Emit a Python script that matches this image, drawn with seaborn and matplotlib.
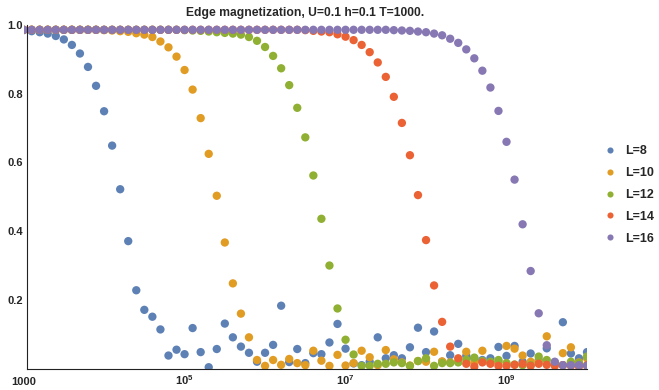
import numpy as np
import pandas as pd
import matplotlib
matplotlib.use("Agg")
import matplotlib.pyplot as plt
from matplotlib.lines import Line2D
from matplotlib.ticker import FixedLocator, NullFormatter
import seaborn as sns

# Time grid: ten samples per decade from 1e3 to 1e10
times = np.logspace(3, 10, 71)

sizes = ["L=8", "L=10", "L=12", "L=14", "L=16"]
colors = ["#5E81B5", "#E19C24", "#8FB032", "#EB6235", "#8778B3"]

m_L8 = [0.985, 0.982, 0.979, 0.975, 0.968, 0.958, 0.942, 0.917, 0.878, 0.823,
        0.749, 0.649, 0.522, 0.371, 0.228, 0.171, 0.151, 0.114, 0.038, 0.055,
        0.042, 0.118, 0.048, 0.004, 0.057, 0.131, 0.091, 0.064, 0.046, 0.020,
        0.046, 0.069, 0.183, 0.019, 0.057, 0.016, 0.045, 0.042, 0.076, 0.130,
        0.058, 0.015, 0.010, 0.020, 0.091, 0.030, 0.039, 0.030, 0.062, 0.119,
        0.048, 0.108, 0.020, 0.039, 0.072, 0.037, 0.030, 0.025, 0.030, 0.063,
        0.037, 0.066, 0.020, 0.044, 0.025, 0.059, 0.015, 0.135, 0.044, 0.030,
        0.048]

m_L10 = [0.986, 0.986, 0.986, 0.986, 0.986, 0.986, 0.986, 0.986, 0.986, 0.986,
         0.985, 0.984, 0.982, 0.980, 0.976, 0.972, 0.965, 0.952, 0.935, 0.908,
         0.869, 0.812, 0.729, 0.625, 0.503, 0.367, 0.248, 0.160, 0.091, 0.025,
         0.008, 0.025, 0.011, 0.028, 0.016, 0.010, 0.052, 0.023, 0.008, 0.040,
         0.009, 0.016, 0.052, 0.033, 0.010, 0.054, 0.027, 0.018, 0.009, 0.022,
         0.020, 0.049, 0.021, 0.018, 0.020, 0.049, 0.018, 0.052, 0.016, 0.020,
         0.066, 0.058, 0.038, 0.020, 0.020, 0.094, 0.018, 0.045, 0.062, 0.018,
         0.030]

m_L12 = [0.986, 0.986, 0.986, 0.986, 0.986, 0.986, 0.986, 0.986, 0.986, 0.986,
         0.986, 0.986, 0.986, 0.986, 0.986, 0.986, 0.986, 0.986, 0.986, 0.986,
         0.985, 0.984, 0.983, 0.981, 0.979, 0.977, 0.975, 0.972, 0.965, 0.954,
         0.936, 0.910, 0.874, 0.825, 0.759, 0.673, 0.562, 0.436, 0.300, 0.175,
         0.084, 0.041, 0.008, 0.008, 0.014, 0.014, 0.018, 0.016, 0.008, 0.022,
         0.030, 0.008, 0.016, 0.016, 0.018, 0.026, 0.032, 0.022, 0.020, 0.025,
         0.016, 0.012, 0.010, 0.010, 0.035, 0.025, 0.012, 0.010, 0.020, 0.016,
         0.035]

m_L14 = [0.986, 0.986, 0.986, 0.986, 0.986, 0.986, 0.986, 0.986, 0.986, 0.986,
         0.986, 0.986, 0.986, 0.986, 0.986, 0.986, 0.986, 0.986, 0.986, 0.986,
         0.986, 0.986, 0.986, 0.986, 0.986, 0.986, 0.986, 0.986, 0.986, 0.986,
         0.986, 0.986, 0.986, 0.986, 0.986, 0.985, 0.983, 0.981, 0.979, 0.973,
         0.966, 0.956, 0.942, 0.921, 0.891, 0.849, 0.791, 0.715, 0.621, 0.505,
         0.374, 0.242, 0.136, 0.064, 0.030, 0.014, 0.006, 0.018, 0.014, 0.008,
         0.008, 0.011, 0.014, 0.008, 0.014, 0.011, 0.008, 0.010, 0.008, 0.006,
         0.010]

m_L16 = [0.986, 0.986, 0.986, 0.986, 0.986, 0.986, 0.986, 0.986, 0.986, 0.986,
         0.986, 0.986, 0.986, 0.986, 0.986, 0.986, 0.986, 0.986, 0.986, 0.986,
         0.986, 0.986, 0.986, 0.986, 0.986, 0.986, 0.986, 0.986, 0.986, 0.986,
         0.986, 0.986, 0.986, 0.986, 0.986, 0.986, 0.986, 0.986, 0.986, 0.986,
         0.986, 0.986, 0.986, 0.986, 0.986, 0.986, 0.985, 0.984, 0.983, 0.981,
         0.979, 0.975, 0.970, 0.960, 0.948, 0.929, 0.903, 0.867, 0.818, 0.750,
         0.660, 0.550, 0.420, 0.284, 0.161, 0.068, 0.020, 0.010, 0.010, 0.010,
         0.008]

series = [m_L8, m_L10, m_L12, m_L14, m_L16]

y_ticks = [0.2, 0.4, 0.6, 0.8, 1.0]
y_ticklabels = ["0.2", "0.4", "0.6", "0.8", "1.0"]
x_ticks = [1e3, 1e5, 1e7, 1e9]
x_ticklabels = ["1000", r"$10^{5}$", r"$10^{7}$", r"$10^{9}$"]
x_minor = [1e4, 1e6, 1e8, 1e10]

sns.set_theme(style="white")
plt.rcParams["font.family"] = ["Liberation Sans", "DejaVu Sans"]
plt.rcParams["font.weight"] = "bold"
plt.rcParams["mathtext.fontset"] = "custom"
plt.rcParams["mathtext.rm"] = "Liberation Sans:bold"
plt.rcParams["mathtext.bf"] = "Liberation Sans:bold"
plt.rcParams["mathtext.it"] = "Liberation Sans:bold"
plt.rcParams["mathtext.default"] = "rm"

df = pd.concat(
    [pd.DataFrame({"t": times, "m": vals, "L": name}) for name, vals in zip(sizes, series)],
    ignore_index=True,
)

W, H = 659, 390
fig = plt.figure(figsize=(W / 100, H / 100), dpi=100)
x0, x1 = 23.6, 587.0
y_top, y_bot = 25.0, 368.6
ax = fig.add_axes([x0 / W, (H - y_bot) / H, (x1 - x0) / W, (y_bot - y_top) / H])

sns.scatterplot(data=df, x="t", y="m", hue="L", hue_order=sizes, palette=colors,
                s=36, linewidth=0, alpha=1.0, ax=ax, legend=False)

ax.set_xscale("log")
ax.set_xlim(1e3, 1e10)
ax.set_ylim(0, 1.0)
ax.set_xlabel("")
ax.set_ylabel("")

axis_x = 10 ** 3.042
for side in ("top", "right"):
    ax.spines[side].set_visible(False)
ax.spines["left"].set_position(("data", axis_x))
ax.spines["left"].set_bounds(0, 1.0)
ax.spines["bottom"].set_bounds(axis_x, 1e10)
for side in ("left", "bottom"):
    ax.spines[side].set_color("#222222")
    ax.spines[side].set_linewidth(0.8)

ax.yaxis.set_major_locator(FixedLocator(y_ticks))
ax.yaxis.set_minor_locator(FixedLocator([v / 100 for v in range(5, 100, 5)]))
ax.yaxis.set_minor_formatter(NullFormatter())
ax.set_yticklabels(y_ticklabels, fontweight="bold")
ax.xaxis.set_major_locator(FixedLocator(x_ticks))
ax.xaxis.set_minor_locator(FixedLocator(x_minor))
ax.xaxis.set_minor_formatter(NullFormatter())
ax.set_xticklabels(x_ticklabels, va="baseline", fontweight="bold")

ax.tick_params(axis="both", which="both", direction="in", color="#222222", width=0.8)
ax.tick_params(axis="both", which="major", length=3.0)
ax.tick_params(axis="both", which="minor", length=1.6)
ax.tick_params(axis="y", which="major", labelsize=8, pad=3.0)
ax.tick_params(axis="x", which="major", labelsize=8, pad=11.5)

fig.text((x0 + x1) / 2 / W, 1 - 13 / H, "Edge magnetization, U=0.1 h=0.1 T=1000.",
         ha="center", va="center", fontsize=8.7, fontweight="bold")

handles = [Line2D([], [], marker="o", linestyle="", markersize=4.4,
                  markerfacecolor=c, markeredgewidth=0) for c in colors]
fig.legend(handles, sizes, loc="center left", bbox_to_anchor=(603.8 / W, 0.5),
           frameon=False, borderpad=0, borderaxespad=0, handlelength=1.0,
           handletextpad=0.7, labelspacing=0.78, prop={"size": 9, "weight": "bold"})

fig.savefig("out.png", dpi=100)
